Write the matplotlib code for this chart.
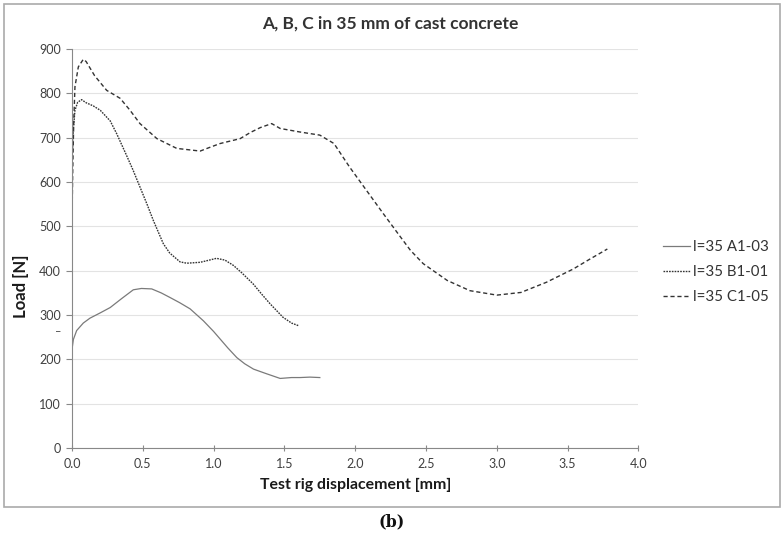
import matplotlib
matplotlib.use('Agg')
import matplotlib.pyplot as plt
from matplotlib.patches import Rectangle

plt.rcParams['font.family'] = ['Lato', 'DejaVu Sans']

# curve A1-03
a_x = [0, 0.01, 0.033, 0.08, 0.127, 0.2, 0.27, 0.35, 0.433, 0.49, 0.563, 0.63, 0.69, 0.76,
       0.834, 0.928, 1.0, 1.046, 1.1, 1.164, 1.22, 1.282, 1.37, 1.47, 1.55, 1.61, 1.68, 1.75]
a_y = [222, 245, 265, 282, 293, 305, 317, 337, 357, 360, 359, 350, 340, 328,
       314, 287, 263, 246, 226, 204, 190, 178, 168, 157, 159, 159, 160, 159]

# curve B1-01
b_x = [0, 0.01, 0.021, 0.04, 0.068, 0.10, 0.15, 0.2, 0.27, 0.316, 0.38, 0.43, 0.48, 0.53,
       0.575, 0.645, 0.69, 0.763, 0.81, 0.905, 0.97, 1.02, 1.08, 1.14, 1.2, 1.28, 1.34, 1.40,
       1.49, 1.55, 1.6]
b_y = [640, 720, 762, 780, 786, 779, 772, 762, 738, 709, 664, 628, 589, 550,
       513, 461, 440, 420, 417, 419, 424, 428, 424, 412, 395, 370, 347, 325,
       295, 282, 276]

# curve C1-05
c_x = [0, 0.005, 0.012, 0.021, 0.045, 0.08, 0.10, 0.16, 0.245, 0.34, 0.41, 0.48, 0.6, 0.74,
       0.905, 0.97, 1.046, 1.187, 1.26, 1.33, 1.41, 1.47, 1.61, 1.75, 1.85, 1.96, 2.08, 2.2,
       2.32, 2.39, 2.48, 2.65, 2.81, 3.0, 3.17, 3.35, 3.54, 3.65, 3.78]
c_y = [510, 620, 730, 815, 860, 877, 872, 840, 807, 789, 762, 732, 698, 676,
       670, 678, 687, 698, 712, 723, 732, 721, 713, 706, 687, 634, 581, 528,
       476, 446, 416, 378, 355, 345, 351, 374, 404, 425, 449]

labels = ['l=35 A1-03', 'l=35 B1-01', 'l=35 C1-05']
x_ticks = [0.0, 0.5, 1.0, 1.5, 2.0, 2.5, 3.0, 3.5, 4.0]
y_ticks = [0, 100, 200, 300, 400, 500, 600, 700, 800, 900]

fig = plt.figure(figsize=(7.84, 5.34), dpi=100)
ax = fig.add_axes([0.0918, 0.161, 0.7226, 0.747])

ax.plot(a_x, a_y, color='#7a7a7a', lw=0.9, ls='-', label=labels[0])
ax.plot(b_x, b_y, color='#333333', lw=1.0, ls=(0, (1.2, 0.8)), label=labels[1])
ax.plot(c_x, c_y, color='#333333', lw=1.0, ls=(0, (3, 2)), label=labels[2])

ax.set_xlim(0, 4.0)
ax.set_ylim(0, 900)
ax.set_xticks(x_ticks)
ax.set_xticklabels(['%.1f' % v for v in x_ticks])
ax.set_yticks(y_ticks)
ax.yaxis.grid(True, color='#e3e3e3', lw=0.8)
ax.set_axisbelow(True)
for s in ['top', 'right']:
    ax.spines[s].set_visible(False)
for s in ['left', 'bottom']:
    ax.spines[s].set_color('#888888')
    ax.spines[s].set_linewidth(0.8)
ax.tick_params(axis='both', labelsize=9, colors='#888888', labelcolor='#404040', length=4, width=0.8)
ax.tick_params(axis='x', direction='inout', pad=5)
ax.tick_params(axis='y', direction='out', pad=4)

fig.text(390 / 784, 1 - 24 / 534, 'A, B, C in 35 mm of cast concrete', fontsize=12.5,
         fontweight='bold', color='#333333', ha='center', va='center')
ax.set_xlabel('Test rig displacement [mm]', fontsize=11.4, fontweight='bold', color='#1a1a1a')
ax.xaxis.set_label_coords(0.5, -30 / 398)
ax.set_ylabel('Load [N]', fontsize=12, fontweight='bold', color='#1a1a1a')
ax.yaxis.set_label_coords(-43 / 566, 365 / 900)

fig.text(58 / 784, 1 - 332 / 534, '\u2013', fontsize=8, color='#404040', ha='center', va='center')

fig.legend(loc='center left', bbox_to_anchor=(657 / 784, 1 - 272 / 534), frameon=False,
           fontsize=10.8, handlelength=1.8, handletextpad=0.2, labelspacing=0.75, labelcolor='#333333',
           borderaxespad=0)

fig.patches.append(Rectangle((4 / 784, 1 - 507 / 534), 776 / 784, 503 / 534, transform=fig.transFigure,
                             fill=False, edgecolor='#aaaaaa', lw=1.2))
fig.text(0.5, 1 - 522 / 534, '(b)', fontsize=11.5, fontweight='bold', family='DejaVu Serif',
         ha='center', va='center', color='#111111')

fig.savefig('out.png', dpi=100)
